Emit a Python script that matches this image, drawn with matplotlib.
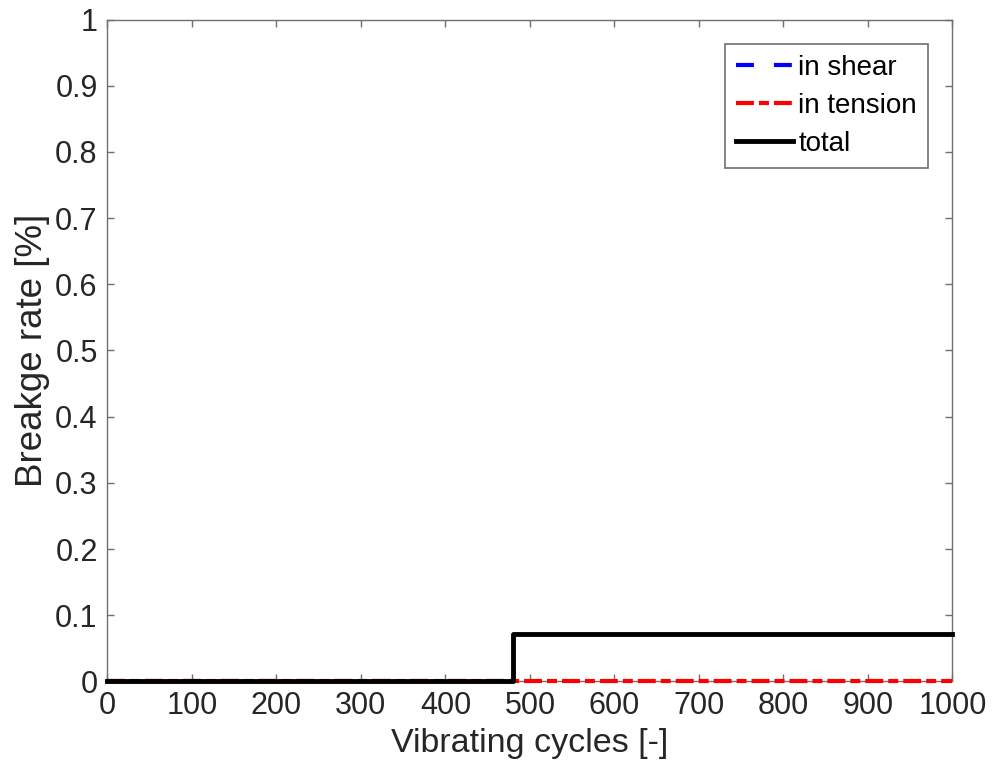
import matplotlib
matplotlib.use("Agg")
import matplotlib.pyplot as plt

plt.rcParams['font.family'] = ['Liberation Sans', 'DejaVu Sans']

# Breakage rate over vibrating cycles
cycles_total = [0, 480, 480, 1000]
rate_total = [0, 0, 0.0714, 0.0714]
cycles_shear = [0, 480]
rate_shear = [0, 0]
cycles_tension = [0, 1000]
rate_tension = [0, 0]

xticks = [0, 100, 200, 300, 400, 500, 600, 700, 800, 900, 1000]
yticks = [0, 0.1, 0.2, 0.3, 0.4, 0.5, 0.6, 0.7, 0.8, 0.9, 1]
ytick_labels = ['0', '0.1', '0.2', '0.3', '0.4', '0.5', '0.6', '0.7', '0.8', '0.9', '1']

ink = '#262626'
frame = '#707070'

fig = plt.figure(figsize=(9.95, 7.8), dpi=100)
ax = fig.add_axes([0.108, 0.1263, 0.8492, 0.8487])

ax.plot(cycles_shear, rate_shear, color='blue', lw=3.0, dashes=(4.3, 4.8), label='in shear',
        zorder=2, clip_on=False)
ax.plot(cycles_tension, rate_tension, color='red', lw=3.0, dashes=(4.3, 1.2, 2.4, 1.2),
        label='in tension', zorder=3, clip_on=False)
ax.plot(cycles_total, rate_total, color='black', lw=3.5, label='total', zorder=4,
        clip_on=False)

ax.set_xlim(0, 1000)
ax.set_ylim(0, 1)
ax.set_xticks(xticks)
ax.set_yticks(yticks)
ax.set_yticklabels(ytick_labels)

ax.tick_params(direction='in', top=True, right=True, length=5, width=1, colors=frame,
               labelsize=22, labelcolor=ink, pad=7)
for s in ax.spines.values():
    s.set_color(frame)
    s.set_linewidth(1)

ax.set_xlabel('Vibrating cycles [-]', fontsize=24.5, color=ink, labelpad=5)
ax.set_ylabel('Breakge rate [%]', fontsize=26.5, color=ink, labelpad=4)

leg = ax.legend(loc='upper right', bbox_to_anchor=(0.971, 0.9635), fontsize=20,
                frameon=True, fancybox=False, edgecolor=frame, handlelength=2.05,
                handletextpad=0.2, borderaxespad=0, labelspacing=0.44, borderpad=0.4)
leg.get_frame().set_linewidth(1.2)
leg.get_frame().set_alpha(1)
for t in leg.get_texts():
    t.set_color('#000000')

fig.savefig('out.png', dpi=100)
